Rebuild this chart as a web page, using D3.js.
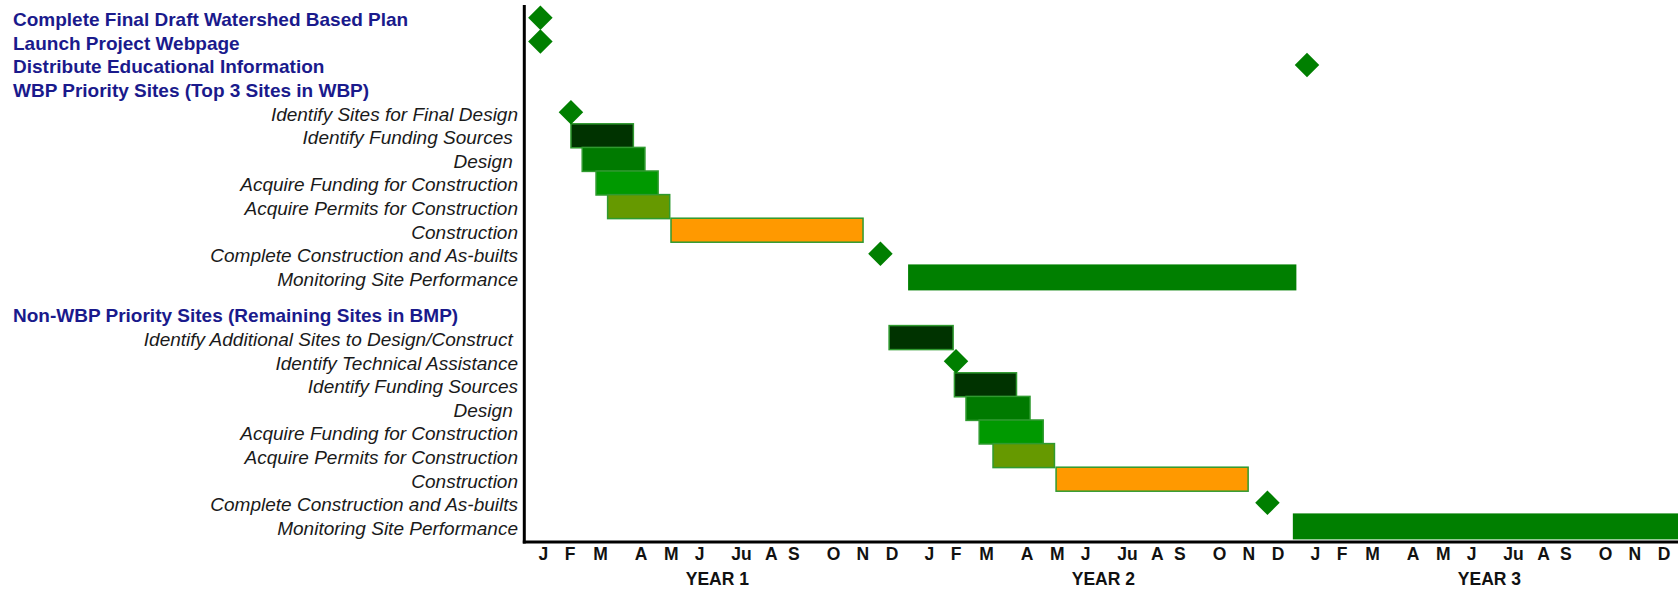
<!DOCTYPE html>
<html>
<head>
<meta charset="utf-8">
<script src="https://cdn.jsdelivr.net/npm/d3@7/dist/d3.min.js"></script>
<style>
  html, body { margin: 0; padding: 0; background: #ffffff; }
  svg { display: block; }
  text { font-family: "Liberation Sans", Arial, sans-serif; white-space: pre; }
</style>
</head>
<body>
<svg id="chart" width="1678" height="590"></svg>
<script>
// ---------------- DATA ----------------
const taskLabels = [
  "Complete Final Draft Watershed Based Plan",
  "Launch Project Webpage",
  "Distribute Educational Information",
  "WBP Priority Sites (Top 3 Sites in WBP)",
  "Identify Sites for Final Design",
  "Identify Funding Sources ",
  "Design ",
  "Acquire Funding for Construction",
  "Acquire Permits for Construction",
  "Construction",
  "Complete Construction and As-builts",
  "Monitoring Site Performance",
  "Non-WBP Priority Sites (Remaining Sites in BMP)",
  "Identify Additional Sites to Design/Construct ",
  "Identify Technical Assistance",
  "Identify Funding Sources",
  "Design ",
  "Acquire Funding for Construction",
  "Acquire Permits for Construction",
  "Construction",
  "Complete Construction and As-builts",
  "Monitoring Site Performance"
];
const headerRows = [0, 1, 2, 3, 12];

// milestones (month position from start of Year 1)
const milestoneRows   = [0, 1, 2, 4, 10, 14, 20];
const milestoneMonths = [0.5, 0.5, 24.33, 1.45, 11.07, 13.42, 23.1];

// bars (start / end in months from start of Year 1)
const barRows   = [5, 6, 7, 8, 9, 11, 13, 15, 16, 17, 18, 19, 21];
const barStart  = [1.45, 1.80, 2.23, 2.59, 4.56, 11.93, 11.34, 13.37, 13.73, 14.14, 14.57, 16.53, 23.89];
const barEnd    = [3.39, 3.75, 4.16, 4.52, 10.53, 24.0, 13.33, 15.30, 15.72, 16.13, 16.48, 22.50, 36.0];
const barPhase  = ["identify", "design", "funding", "permits", "construction", "monitoring",
                   "identify", "identify", "design", "funding", "permits", "construction", "monitoring"];

// axis tick labels
const monthLabels  = ["J", "F", "M", "A", "M", "J", "Ju", "A", "S", "O", "N", "D"];
const monthOffsets = [0.59, 1.42, 2.37, 3.63, 4.57, 5.45, 6.75, 7.68, 8.38, 9.61, 10.52, 11.43];
const yearLabels   = ["YEAR 1", "YEAR 2", "YEAR 3"];

// ---------------- STYLE ----------------
const phaseColor = {
  identify: "#003300",
  design: "#007a00",
  funding: "#009900",
  permits: "#669900",
  construction: "#ff9900",
  monitoring: "#007f00"
};
const strokeColor = "#2f9a2f";
const markGreen = "#007f00";

// ---------------- LAYOUT ----------------
const svg = d3.select("#chart");
svg.append("rect").attr("width", 1678).attr("height", 590).attr("fill", "#fff");

const axisX = 524.3, axisY = 542;
const x = d3.scaleLinear().domain([0, 36]).range([axisX, axisX + 36 * 32.17]);
const rowPos = i => (i < 12 ? i : i + 0.55);
const y = d3.scaleLinear().domain([0, 21.55]).range([19.3, 527.9]);
const markOff = -1.5;

// labels
svg.append("g").selectAll("text")
  .data(taskLabels)
  .join("text")
  .attr("x", (d, i) => headerRows.includes(i) ? 13 : 518)
  .attr("y", (d, i) => y(rowPos(i)))
  .attr("dy", "0.36em")
  .attr("text-anchor", (d, i) => headerRows.includes(i) ? "start" : "end")
  .attr("font-size", "19px")
  .attr("font-weight", (d, i) => headerRows.includes(i) ? "bold" : "normal")
  .attr("font-style", (d, i) => headerRows.includes(i) ? "normal" : "italic")
  .attr("fill", (d, i) => headerRows.includes(i) ? "#1a1a8c" : "#1a1a1a")
  .text(d => d);

// bars
const plot = svg.append("g");
const barH = 24;
plot.selectAll("rect.bar")
  .data(barRows.map((r, k) => ({ r, s: barStart[k], e: barEnd[k], p: barPhase[k] })))
  .join("rect")
  .attr("class", "bar")
  .attr("x", d => x(d.s))
  .attr("y", d => y(rowPos(d.r)) + markOff - (d.p === "monitoring" ? 13 : barH / 2))
  .attr("width", d => x(d.e) - x(d.s))
  .attr("height", d => d.p === "monitoring" ? 26 : barH)
  .attr("fill", d => phaseColor[d.p])
  .attr("stroke", d => d.p === "monitoring" ? "none" : strokeColor)
  .attr("stroke-width", 1.5);

// milestones
const diamond = d3.symbol().type(d3.symbolSquare).size(300);
plot.selectAll("path.ms")
  .data(milestoneRows.map((r, k) => ({ r, m: milestoneMonths[k] })))
  .join("path")
  .attr("class", "ms")
  .attr("d", diamond)
  .attr("transform", d => `translate(${x(d.m)},${y(rowPos(d.r)) + markOff}) rotate(45)`)
  .attr("fill", markGreen);

// axes
svg.append("line")
  .attr("x1", axisX).attr("x2", axisX)
  .attr("y1", 5).attr("y2", axisY + 1.5)
  .attr("stroke", "#000").attr("stroke-width", 3);
svg.append("line")
  .attr("x1", axisX - 1.5).attr("x2", 1678)
  .attr("y1", axisY).attr("y2", axisY)
  .attr("stroke", "#000").attr("stroke-width", 3);

// month ticks
const ticks = [];
yearLabels.forEach((yl, yi) => {
  monthLabels.forEach((ml, mi) => ticks.push({ t: ml, v: yi * 12 + monthOffsets[mi] }));
});
svg.append("g").selectAll("text")
  .data(ticks)
  .join("text")
  .attr("x", d => x(d.v))
  .attr("y", 554)
  .attr("dy", "0.36em")
  .attr("text-anchor", "middle")
  .attr("font-size", "17.5px")
  .attr("font-weight", "bold")
  .attr("fill", "#111")
  .text(d => d.t);

svg.append("g").selectAll("text")
  .data(yearLabels)
  .join("text")
  .attr("x", (d, i) => x(i * 12 + 6))
  .attr("y", 578.5)
  .attr("dy", "0.36em")
  .attr("text-anchor", "middle")
  .attr("font-size", "17.5px")
  .attr("font-weight", "bold")
  .attr("fill", "#111")
  .text(d => d);
</script>
</body>
</html>
